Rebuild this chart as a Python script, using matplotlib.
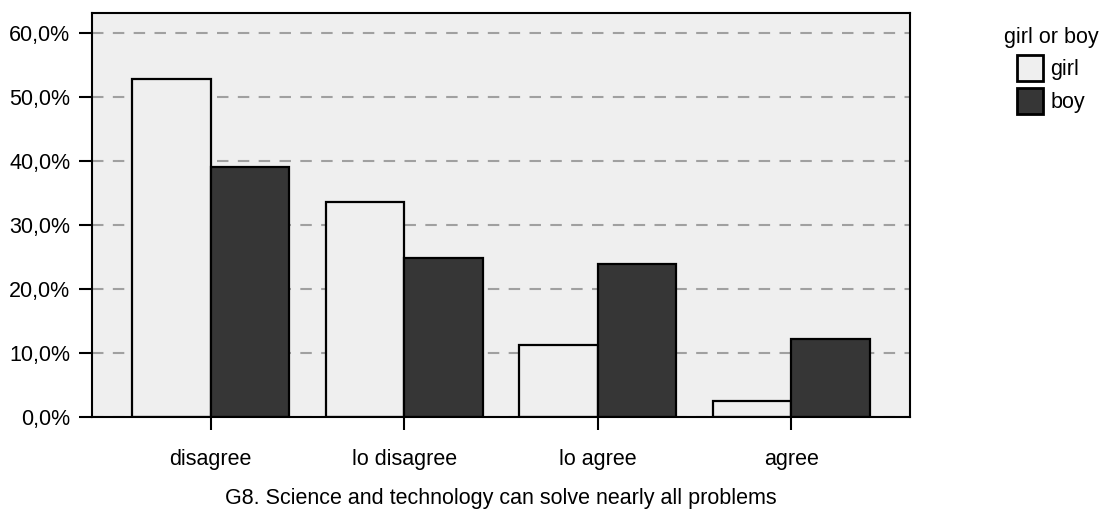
import matplotlib
matplotlib.use("Agg")
import matplotlib.pyplot as plt  # To plot the bars
from matplotlib.ticker import FuncFormatter  # To format the percentages
import numpy as np  # To place the groups

plt.rcParams['font.family'] = ['Liberation Sans', 'DejaVu Sans']

# Data (percent of each group)
categories = ['disagree', 'lo disagree', 'lo agree', 'agree']
girl = [52.9, 33.6, 11.2, 2.4]
boy = [39.1, 24.8, 23.9, 12.2]
series_names = ['girl', 'boy']
legend_title = 'girl or boy'
x_title = 'G8. Science and technology can solve nearly all problems'

fig = plt.figure(figsize=(11.04, 5.11), dpi=100)
ax = fig.add_axes([0.0833, 0.1845, 0.741, 0.790])
ax.set_facecolor('#efefef')

x = np.arange(len(categories))
width = 0.405
ax.bar(x - width / 2, girl, width, color='#efefef', edgecolor='black', linewidth=1.6, label=series_names[0], zorder=3)
ax.bar(x + width / 2, boy, width, color='#363636', edgecolor='black', linewidth=1.6, label=series_names[1], zorder=3)

ax.set_xlim(-0.613, 3.613)
ax.set_ylim(0, 63.2)
ax.set_yticks(np.arange(0, 61, 10))
ax.yaxis.set_major_formatter(FuncFormatter(lambda v, p: f'{v:.1f}%'.replace('.', ',')))
ax.set_xticks(x)
ax.set_xticklabels(categories)

ax.yaxis.grid(True, color='#a0a0a0', linestyle=(0, (5.5, 4.5)), linewidth=1.5)
ax.set_axisbelow(True)

for side in ax.spines.values():
    side.set_linewidth(1.5)
    side.set_color('black')
    side.set_zorder(4)

ax.tick_params(axis='both', labelsize=15.5, width=1.5, length=9.5, color='black')
ax.tick_params(axis='y', pad=6)
ax.tick_params(axis='x', pad=14)
ax.set_xlabel(x_title, fontsize=15.5, labelpad=13)

leg = ax.legend(loc='upper left', bbox_to_anchor=(0.909, 0.948), bbox_transform=fig.transFigure,
                frameon=False, title=legend_title, fontsize=15.5, title_fontsize=15.5,
                handlelength=1.2, handleheight=1.45, handletextpad=0.35, labelspacing=0.35,
                borderaxespad=0, borderpad=0)
for patch in leg.get_patches():
    patch.set_linewidth(2)

fig.savefig('out.png', dpi=100)
